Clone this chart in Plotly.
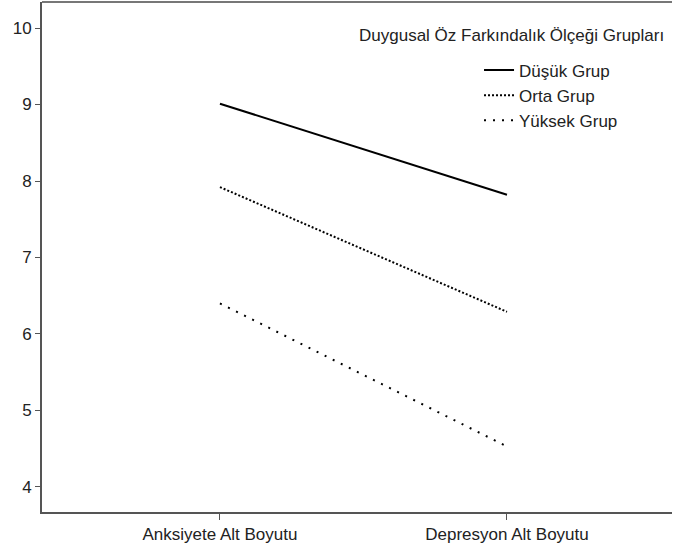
import plotly.graph_objects as go

categories = ["Anksiyete Alt Boyutu", "Depresyon Alt Boyutu"]
dusuk = [9.01, 7.82]
orta = [7.92, 6.29]
yuksek = [6.40, 4.53]
series_names = ["Düşük Grup", "Orta Grup", "Yüksek Grup"]
legend_title = "Duygusal Öz Farkındalık Ölçeği Grupları"
y_ticks = [4, 5, 6, 7, 8, 9, 10]

FONT = "Liberation Sans, Arial, sans-serif"
xpos = [0, 1]

fig = go.Figure()
fig.add_trace(go.Scatter(x=xpos, y=dusuk, mode="lines", name=series_names[0],
                         line=dict(color="black", width=2, dash="solid")))
fig.add_trace(go.Scatter(x=xpos, y=orta, mode="lines", name=series_names[1],
                         line=dict(color="black", width=2, dash="2px,2px")))
fig.add_trace(go.Scatter(x=xpos, y=yuksek, mode="lines", name=series_names[2],
                         line=dict(color="black", width=2, dash="2px,7px")))

fig.update_layout(
    template="none",
    width=673, height=553,
    margin=dict(l=42, r=1, t=2, b=41, autoexpand=False),
    paper_bgcolor="white", plot_bgcolor="white",
    font=dict(family=FONT, size=17, color="#222"),
    showlegend=True,
    legend=dict(x=0.6937, y=0.901, xanchor="left", yanchor="top",
                bgcolor="rgba(0,0,0,0)", font=dict(size=17, color="#222"),
                itemwidth=30, tracegroupgap=0),
    xaxis=dict(range=[-0.62, 1.575], tickmode="array", tickvals=xpos,
               ticktext=categories, showgrid=False, zeroline=False,
               automargin=False,
               showline=True, linecolor="#555", linewidth=2, mirror=False,
               ticks="outside", ticklen=6, tickcolor="#555", tickwidth=1,
               tickfont=dict(size=17, color="#222")),
    yaxis=dict(range=[3.673, 10.34], tickmode="array", tickvals=y_ticks,
               automargin=False,
               showgrid=False, zeroline=False, showline=True, linecolor="#555",
               linewidth=2, ticks="outside", ticklen=5, tickcolor="#555",
               tickwidth=1, tickfont=dict(size=17, color="#222")),
    annotations=[dict(text=legend_title, xref="paper", yref="paper",
                      x=0.9905, y=0.935, xanchor="right", yanchor="middle",
                      showarrow=False, font=dict(size=17, color="#222"))],
    shapes=[dict(type="line", xref="paper", yref="paper", x0=0, x1=1, y0=1, y1=1,
                 line=dict(color="#777", width=2))],
)

fig.write_html("out.html", config={"displayModeBar": False},
               post_script="document.body.style.margin='0px';")
